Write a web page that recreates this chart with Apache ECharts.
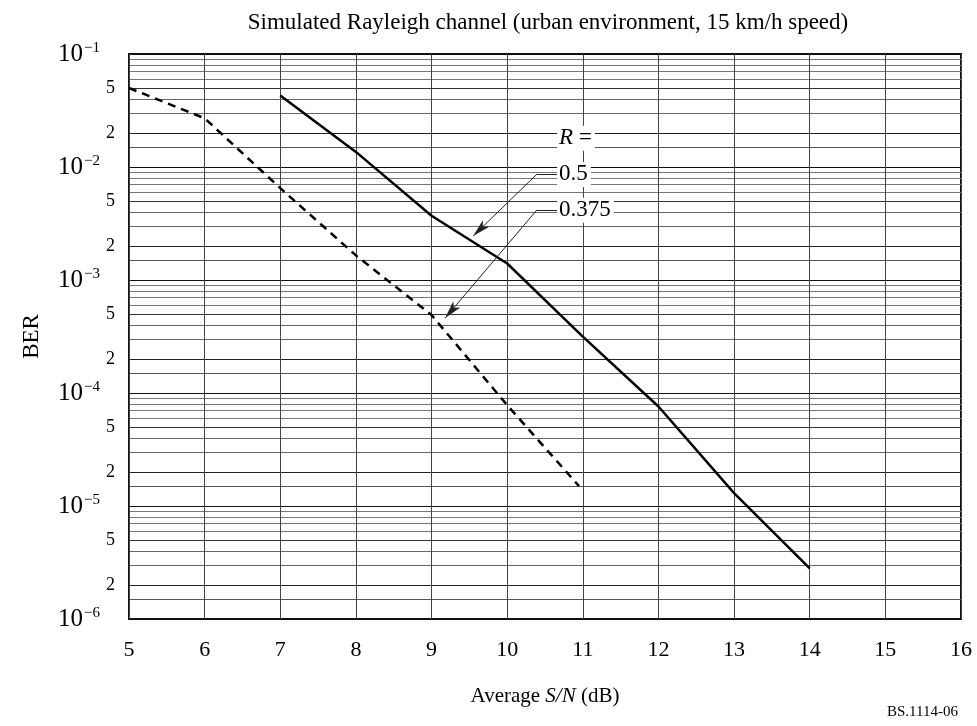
<!DOCTYPE html>
<html><head><meta charset="utf-8">
<script src="https://cdn.jsdelivr.net/npm/echarts@6/dist/echarts.min.js"></script>
<style>html,body{margin:0;padding:0;background:#fff}#c{width:977px;height:726px}</style>
</head><body><div id="c"></div>
<script>
// ---- data ----
const snrR05 = [7, 8, 9, 10, 11, 12, 13, 14];
const berR05 = [4.3e-2, 1.36e-2, 3.7e-3, 1.4e-3, 3.15e-4, 7.6e-5, 1.3e-5, 2.8e-6];
const snrR0375 = [5, 6, 7, 8, 9, 10, 10.95];
const berR0375 = [5.0e-2, 2.7e-2, 6.5e-3, 1.65e-3, 4.9e-4, 7.8e-5, 1.5e-5];

// axis ticks
const xMin = 5, xMax = 16, xStep = 1;
const decadeExponents = [-6, -5, -4, -3, -2, -1];
const gridMultipliers = [1, 1.5, 2, 3, 4, 5, 6, 7, 8, 9];
const labelMultipliers = [1, 2, 5];

// annotation labels (data coordinates)
const annoTexts = ['{i|R}{n| =}', '{n|0.5}', '{n|0.375}'];
const annoX = [10.66, 10.66, 10.66];
const annoY = [1.8e-2, 8.6e-3, 4.15e-3];
// leader lines
const leaderElbowX = [10.39, 10.39];
const leaderLabelX = [10.66, 10.66];
const leaderY = [8.6e-3, 4.15e-3];
const leaderTipX = [9.55, 9.18];
const leaderTipY = [2.45e-3, 4.6e-4];

const FONT = '"Liberation Serif", "Times New Roman", serif';

function buildTicks(mults) {
  const out = [];
  decadeExponents.forEach(function (e) {
    mults.forEach(function (m) {
      const v = m * Math.pow(10, e);
      if (v <= 1.0000001e-1) out.push(v);
    });
  });
  out.push(1e-1);
  return Array.from(new Set(out)).sort(function (a, b) { return a - b; });
}
const yGridValues = buildTicks(gridMultipliers);
const yLabelValues = buildTicks(labelMultipliers);

const gridColors = ['#111', '#555', '#222', '#666', '#666', '#333', '#777', '#777', '#777', '#777'];

const markLineData = [];
for (let i = 0; i < leaderY.length; i++) {
  markLineData.push([{ coord: [leaderElbowX[i], leaderY[i]], symbol: 'none' },
                     { coord: [leaderLabelX[i], leaderY[i]], symbol: 'none' }]);
  markLineData.push([{ coord: [leaderElbowX[i], leaderY[i]], symbol: 'none' },
                     { coord: [leaderTipX[i], leaderTipY[i]], symbol: 'arrow' }]);
}

const chart = echarts.init(document.getElementById('c'));
chart.setOption({
  animation: false,
  backgroundColor: '#fff',
  textStyle: { fontFamily: FONT, color: '#000' },
  grid: { left: 129, right: 16, top: 54, bottom: 107, show: true, borderColor: '#111', borderWidth: 2, containLabel: false },
  graphic: [
    { type: 'text', x: 548, y: 23, style: { text: 'Simulated Rayleigh channel (urban environment, 15 km/h speed)', font: '23px ' + FONT, fill: '#000', align: 'center', verticalAlign: 'middle' } },
    { type: 'text', x: 958, y: 712, style: { text: 'BS.1114-06', font: '15px ' + FONT, fill: '#000', align: 'right', verticalAlign: 'middle' } }
  ],
  xAxis: {
    type: 'value', min: xMin, max: xMax, interval: xStep,
    axisLine: { show: false }, axisTick: { show: false },
    axisLabel: { fontSize: 22, fontFamily: FONT, color: '#000', margin: 20 },
    splitLine: { show: true, lineStyle: { color: '#444', width: 1 } },
    name: '{n|Average }{i|S/N}{n| (dB)}', nameLocation: 'middle', nameGap: 67,
    nameTextStyle: { rich: { n: { fontSize: 21, fontFamily: FONT, color: '#000' }, i: { fontSize: 21, fontFamily: FONT, fontStyle: 'italic', color: '#000' } } }
  },
  yAxis: {
    type: 'log', logBase: 10, min: 1e-6, max: 1e-1,
    axisLine: { show: false },
    axisTick: { show: false, customValues: yGridValues },
    splitLine: { show: true, lineStyle: { color: gridColors, width: 1 } },
    axisLabel: {
      customValues: yLabelValues, margin: 14, color: '#000',
      formatter: function (v) {
        const e = Math.floor(Math.log10(v) + 1e-9);
        const m = Math.round(v / Math.pow(10, e));
        if (m === 1) return '{b|10}{e|\u2212' + (-e) + '}';
        return '{m|' + m + '}';
      },
      rich: {
        b: { fontSize: 25, lineHeight: 26, fontFamily: FONT, color: '#000' },
        e: { fontSize: 15, lineHeight: 14, verticalAlign: 'top', fontFamily: FONT, color: '#000', padding: [0, 15, 0, 1] },
        m: { fontSize: 18, fontFamily: FONT, color: '#000' }
      }
    },
    name: 'BER', nameLocation: 'middle', nameGap: 86, nameRotate: 90,
    nameTextStyle: { fontSize: 23, fontFamily: FONT, color: '#000' }
  },
  series: [
    {
      name: 'R = 0.5', type: 'line', symbol: 'none', z: 3,
      data: snrR05.map(function (x, i) { return [x, berR05[i]]; }),
      lineStyle: { color: '#000', width: 2.5 }
    },
    {
      name: 'R = 0.375', type: 'line', symbol: 'none', z: 3,
      data: snrR0375.map(function (x, i) { return [x, berR0375[i]]; }),
      lineStyle: { color: '#000', width: 2.5, type: [8, 6] }
    },
    {
      name: 'annotations', type: 'scatter', symbolSize: 0, z: 5, silent: true,
      itemStyle: { opacity: 1, color: '#000' },
      data: annoX.map(function (x, i) { return { value: [x, annoY[i]], label: { formatter: annoTexts[i] } }; }),
      label: {
        show: true, position: 'right', distance: 0, opacity: 1,
        backgroundColor: '#fff', padding: [1, 3, 1, 2],
        rich: {
          n: { fontSize: 23, fontFamily: FONT, color: '#000' },
          i: { fontSize: 23, fontFamily: FONT, fontStyle: 'italic', color: '#000' }
        }
      },
      markLine: {
        silent: true, symbolSize: [7, 18], label: { show: false },
        lineStyle: { color: '#222', width: 1, type: 'solid', opacity: 1 },
        data: markLineData
      }
    }
  ]
});
</script>
</body></html>
